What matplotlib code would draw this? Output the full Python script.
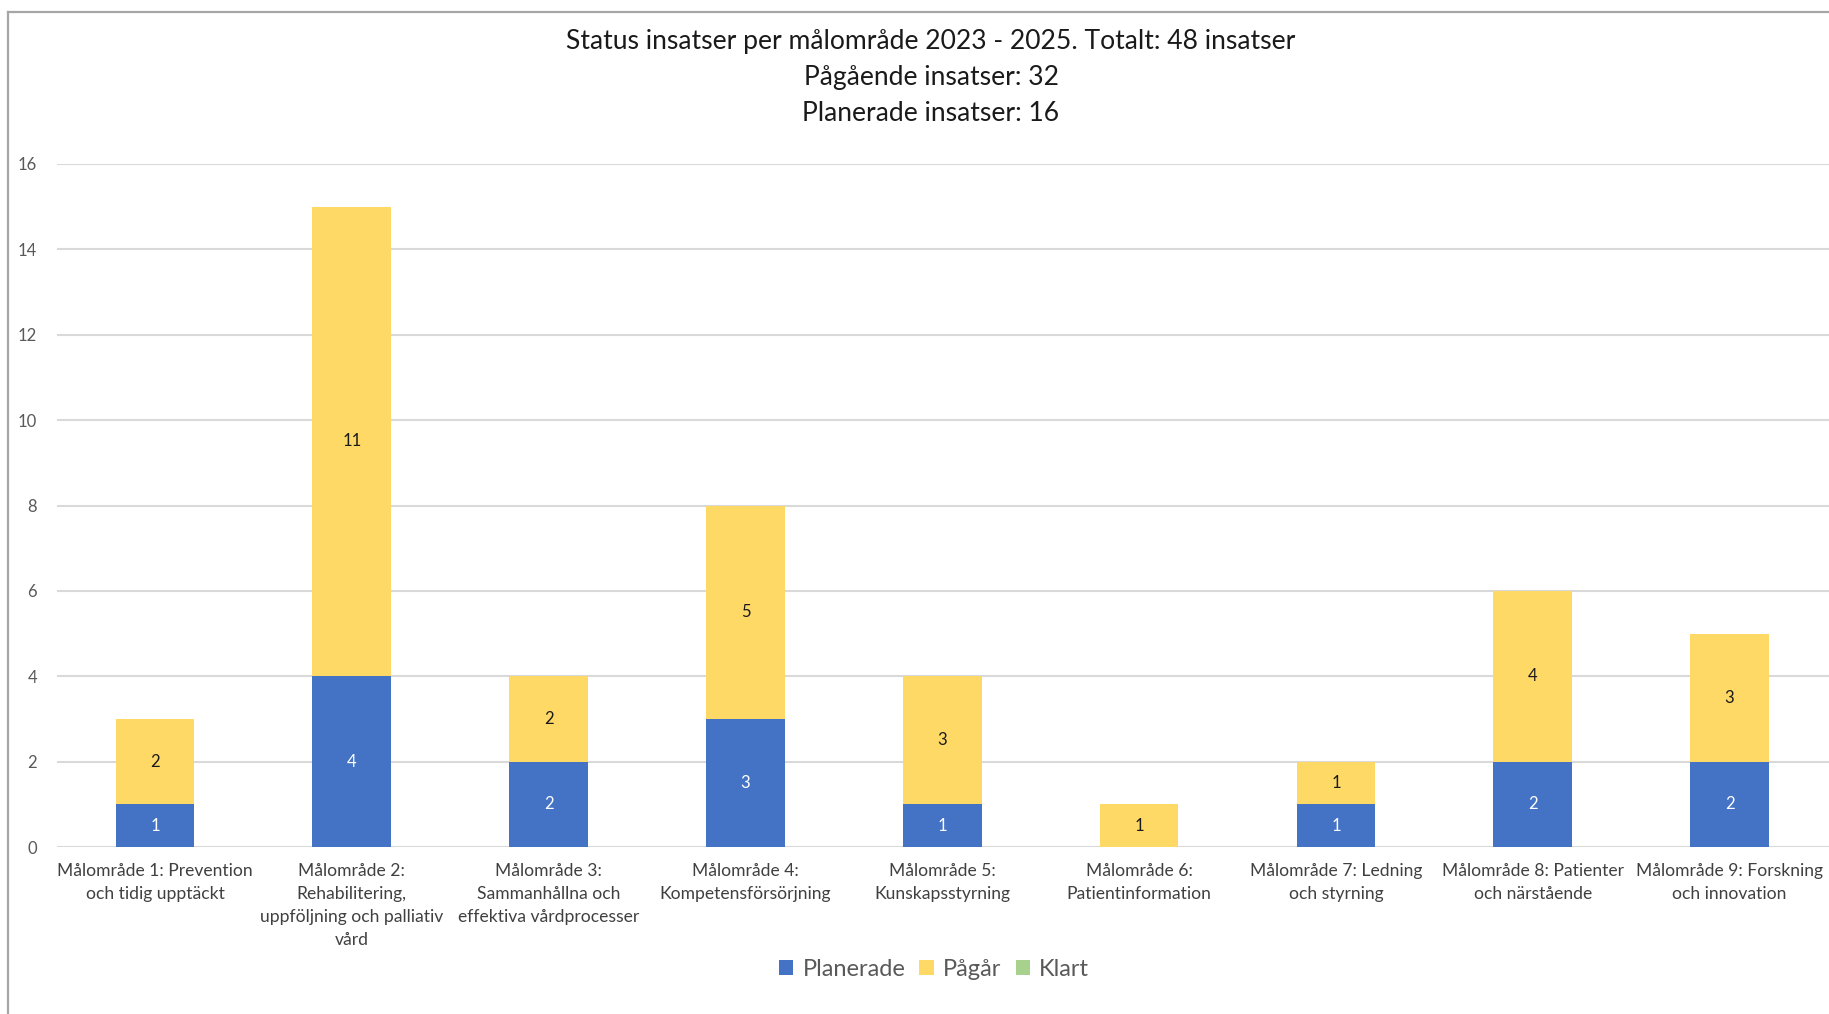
import matplotlib
matplotlib.use("Agg")
import matplotlib.pyplot as plt
from matplotlib.lines import Line2D
from matplotlib.patches import Patch
import numpy as np

plt.rcParams['font.family'] = ['Lato', 'DejaVu Sans']

categories = [
    "Målområde 1: Prevention\noch tidig upptäckt",
    "Målområde 2:\nRehabilitering,\nuppföljning och palliativ\nvård",
    "Målområde 3:\nSammanhållna och\neffektiva vårdprocesser",
    "Målområde 4:\nKompetensförsörjning",
    "Målområde 5:\nKunskapsstyrning",
    "Målområde 6:\nPatientinformation",
    "Målområde 7: Ledning\noch styrning",
    "Målområde 8: Patienter\noch närstående",
    "Målområde 9: Forskning\noch innovation",
]
planerade = [1, 4, 2, 3, 1, 0, 1, 2, 2]
pagar = [2, 11, 2, 5, 3, 1, 1, 4, 3]
klart = [0, 0, 0, 0, 0, 0, 0, 0, 0]
series_names = ["Planerade", "Pågår", "Klart"]
yticks = [0, 2, 4, 6, 8, 10, 12, 14, 16]
title_lines = ["Status insatser per målområde 2023 - 2025. Totalt: 48 insatser",
               "Pågående insatser: 32",
               "Planerade insatser: 16"]

colors = ["#4472C4", "#FFD966", "#A9D18E"]

W, H = 1829, 1014
fig = plt.figure(figsize=(W / 100, H / 100), dpi=100)

ax_left, ax_right = 56.6, 1829.0
ax_top, ax_bottom = 164.0, 847.0
ax = fig.add_axes([ax_left / W, 1 - ax_bottom / H, (ax_right - ax_left) / W, (ax_bottom - ax_top) / H])

x = np.arange(len(categories))
bw = 0.40
series = [planerade, pagar, klart]
bottom = np.zeros(len(categories))
for vals, c, name in zip(series, colors, series_names):
    vals = np.array(vals, dtype=float)
    ax.bar(x, vals, bw, bottom=bottom, color=c, label=name, zorder=3)
    for xi, v, b in zip(x, vals, bottom):
        if v > 0:
            ax.text(xi, b + v / 2, f"{int(v)}", ha="center", va="center",
                    fontsize=12, color=("white" if c == colors[0] else "#1a1a1a"), zorder=4)
    bottom += vals

ax.set_xlim(-0.5, len(categories) - 0.5 + (1829 - 1828.0) / 196.8)
ax.set_ylim(0, 16)
ax.set_yticks(yticks)
ax.set_yticklabels([str(t) for t in yticks], fontsize=12, color="#595959")
ax.set_xticks(x)
ax.set_xticklabels(categories, fontsize=12.65, color="#404040", linespacing=1.55)
ax.tick_params(axis='both', length=0)
ax.tick_params(axis='y', pad=14)
ax.tick_params(axis='x', pad=11.5)
ax.grid(axis='y', color="#D9D9D9", linewidth=1.5, zorder=0)
for s in ax.spines.values():
    s.set_visible(False)

# Title
ty = [41.5, 77.5, 113.5]
for line, yy in zip(title_lines, ty):
    fig.text(931 / W, 1 - yy / H, line, ha="center", va="center", fontsize=19.1, color="#1a1a1a")

# Legend
handles = [Patch(facecolor=c, edgecolor='none') for c in colors]
fig.legend(handles, series_names, loc="center", bbox_to_anchor=(934 / W, 1 - 969.5 / H),
           ncol=3, frameon=False, fontsize=17, handlelength=0.6, handleheight=0.6,
           handletextpad=0.4, columnspacing=0.6, labelcolor="#595959")

# Outer frame (left and top only, cut off on the right/bottom)
fig.add_artist(Line2D([8 / W, 8 / W], [0, 1 - 12 / H], transform=fig.transFigure, color="#A6A6A6", linewidth=1.6))
fig.add_artist(Line2D([8 / W, 1], [1 - 12 / H, 1 - 12 / H], transform=fig.transFigure, color="#A6A6A6", linewidth=1.6))

fig.savefig("out.png", dpi=100)
